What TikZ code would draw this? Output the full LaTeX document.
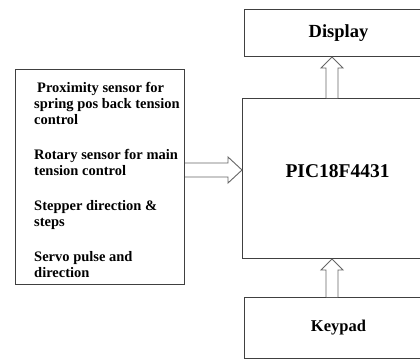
\documentclass[tikz,border=0pt]{standalone}
\usepackage{fontspec}
\setmainfont{Liberation Serif}
\usetikzlibrary{calc}

\begin{document}
\begin{tikzpicture}[x=1pt, y=-1pt]
\tikzset{
  block/.style = {rectangle, draw=black!75, line width=1pt, anchor=north west, inner sep=0pt, font=\bfseries},
  hollow/.style = {draw=black!60, line width=0.9pt, fill=white, line join=miter}
}
\useasboundingbox (0,0) rectangle (420,360);
\clip (0,0) rectangle (420,360);

% Blocks
\node[block, minimum width=169pt, minimum height=215pt] (sensors) at (15,69) {};
\node[block, minimum width=190pt, minimum height=160pt] (pic) at (242,98) {};
\node[block, minimum width=188pt, minimum height=47pt, font=\bfseries\fontsize{18.5}{20}\selectfont] (disp) at (244,9) {Display};
\node[block, minimum width=188pt, minimum height=61pt, font=\bfseries\fontsize{16.5}{18}\selectfont] (keypad) at (244,297) {Keypad};

% Texts
\node[font=\bfseries\fontsize{19.5}{21}\selectfont] (piclabel) at ([yshift=7.5pt]pic.center) {PIC18F4431};
\node[anchor=north west, inner sep=0pt, align=left, font=\bfseries\fontsize{14.5}{16}\selectfont] (inputs) at (34,82)
{\hspace{3pt}Proximity sensor for\\
spring pos back tension\\
control\\[19pt]
Rotary sensor for main\\
tension control\\[19pt]
Stepper direction \&\\
steps\\[19pt]
Servo pulse and\\
direction};

% Hollow arrows
\coordinate (axis) at (332,0);
\coordinate (h1) at (sensors.east |- 0,170);
\coordinate (h2) at (pic.west |- h1);
\draw[hollow] ($(h1)+(0,-7)$) -- ($(h2)+(-14,-7)$) -- ($(h2)+(-14,-13)$) -- (h2)
  -- ($(h2)+(-14,13)$) -- ($(h2)+(-14,7)$) -- ($(h1)+(0,7)$);
\coordinate (d1) at (pic.north -| axis);
\coordinate (d2) at (disp.south -| axis);
\draw[hollow] ($(d1)+(-6,0)$) -- ($(d2)+(-6,11)$) -- ($(d2)+(-11,11)$) -- (d2)
  -- ($(d2)+(11,11)$) -- ($(d2)+(6,11)$) -- ($(d1)+(6,0)$);
\coordinate (k1) at (keypad.north -| axis);
\coordinate (k2) at (pic.south -| axis);
\draw[hollow] ($(k1)+(-6,0)$) -- ($(k2)+(-6,11)$) -- ($(k2)+(-11,11)$) -- (k2)
  -- ($(k2)+(11,11)$) -- ($(k2)+(6,11)$) -- ($(k1)+(6,0)$);

\end{tikzpicture}
\end{document}
